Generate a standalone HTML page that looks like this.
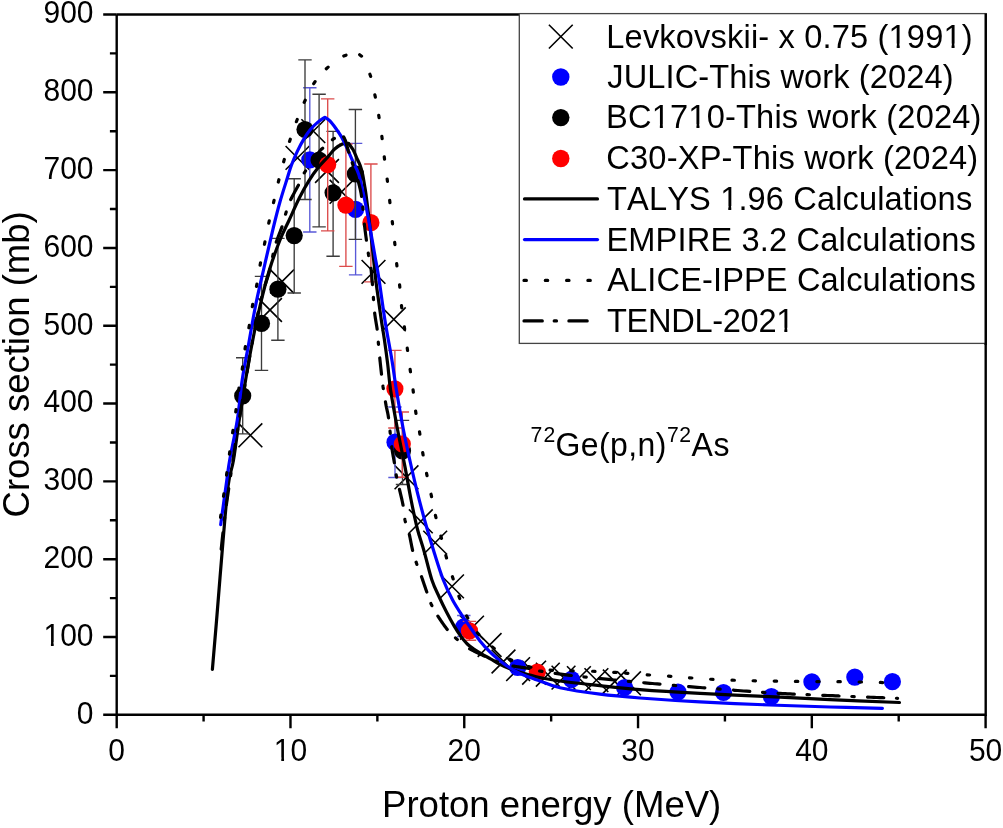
<!DOCTYPE html>
<html><head><meta charset="utf-8"><title>72Ge(p,n)72As cross section</title>
<style>html,body{margin:0;padding:0;background:#fff;}body{width:1003px;height:828px;position:relative;overflow:hidden;font-family:"Liberation Sans",sans-serif;}</style>
</head><body>
<svg width="1003" height="828" viewBox="0 0 1003 828" style="position:absolute;left:0;top:0;will-change:transform">
<rect width="100%" height="100%" fill="#fff"/>
<path d="M238.50,423.40L262.30,447.20M238.50,447.20L262.30,423.40" stroke="#000" stroke-width="1.6" fill="none"/>
<path d="M258.10,298.10L281.90,321.90M258.10,321.90L281.90,298.10" stroke="#000" stroke-width="1.6" fill="none"/>
<path d="M270.20,269.60L294.00,293.40M270.20,293.40L294.00,269.60" stroke="#000" stroke-width="1.6" fill="none"/>
<path d="M285.60,146.00L309.40,169.80M285.60,169.80L309.40,146.00" stroke="#000" stroke-width="1.6" fill="none"/>
<path d="M301.40,119.20L325.20,143.00M301.40,143.00L325.20,119.20" stroke="#000" stroke-width="1.6" fill="none"/>
<path d="M315.10,159.10L338.90,182.90M315.10,182.90L338.90,159.10" stroke="#000" stroke-width="1.6" fill="none"/>
<path d="M329.70,179.90L353.50,203.70M329.70,203.70L353.50,179.90" stroke="#000" stroke-width="1.6" fill="none"/>
<path d="M361.60,260.00L385.40,283.80M361.60,283.80L385.40,260.00" stroke="#000" stroke-width="1.6" fill="none"/>
<path d="M381.90,307.40L405.70,331.20M381.90,331.20L405.70,307.40" stroke="#000" stroke-width="1.6" fill="none"/>
<path d="M394.60,465.40L418.40,489.20M394.60,489.20L418.40,465.40" stroke="#000" stroke-width="1.6" fill="none"/>
<path d="M408.90,509.40L432.70,533.20M408.90,533.20L432.70,509.40" stroke="#000" stroke-width="1.6" fill="none"/>
<path d="M423.30,530.70L447.10,554.50M423.30,554.50L447.10,530.70" stroke="#000" stroke-width="1.6" fill="none"/>
<path d="M440.10,574.50L463.90,598.30M440.10,598.30L463.90,574.50" stroke="#000" stroke-width="1.6" fill="none"/>
<path d="M460.10,615.80L483.90,639.60M460.10,639.60L483.90,615.80" stroke="#000" stroke-width="1.6" fill="none"/>
<path d="M477.70,633.10L501.50,656.90M477.70,656.90L501.50,633.10" stroke="#000" stroke-width="1.6" fill="none"/>
<path d="M491.60,649.60L515.40,673.40M491.60,673.40L515.40,649.60" stroke="#000" stroke-width="1.6" fill="none"/>
<path d="M506.20,657.20L530.00,681.00M506.20,681.00L530.00,657.20" stroke="#000" stroke-width="1.6" fill="none"/>
<path d="M522.20,660.80L546.00,684.60M522.20,684.60L546.00,660.80" stroke="#000" stroke-width="1.6" fill="none"/>
<path d="M535.90,662.80L559.70,686.60M535.90,686.60L559.70,662.80" stroke="#000" stroke-width="1.6" fill="none"/>
<path d="M551.60,665.70L575.40,689.50M551.60,689.50L575.40,665.70" stroke="#000" stroke-width="1.6" fill="none"/>
<path d="M567.00,666.20L590.80,690.00M567.00,690.00L590.80,666.20" stroke="#000" stroke-width="1.6" fill="none"/>
<path d="M584.50,668.20L608.30,692.00M584.50,692.00L608.30,668.20" stroke="#000" stroke-width="1.6" fill="none"/>
<path d="M602.90,669.60L626.70,693.40M602.90,693.40L626.70,669.60" stroke="#000" stroke-width="1.6" fill="none"/>
<path d="M617.10,671.40L640.90,695.20M617.10,695.20L640.90,671.40" stroke="#000" stroke-width="1.6" fill="none"/>
<path d="M309.8,87.7V232M303.1,87.7H316.5M303.1,232H316.5" stroke="#5858d8" stroke-width="1.35" fill="none"/>
<path d="M355.6,143.3V274.8M348.90000000000003,143.3H362.3M348.90000000000003,274.8H362.3" stroke="#5858d8" stroke-width="1.35" fill="none"/>
<path d="M395.0,407V477.5M388.3,407H401.7M388.3,477.5H401.7" stroke="#5858d8" stroke-width="1.35" fill="none"/>
<path d="M463.8,615.5V636.5M457.1,615.5H470.5M457.1,636.5H470.5" stroke="#5858d8" stroke-width="1.35" fill="none"/>
<circle cx="309.8" cy="159.8" r="8.6" fill="#0000ff"/>
<circle cx="355.6" cy="209.3" r="8.6" fill="#0000ff"/>
<circle cx="395.0" cy="442.2" r="8.6" fill="#0000ff"/>
<circle cx="463.8" cy="626.8" r="8.6" fill="#0000ff"/>
<circle cx="517.7" cy="667.5" r="8.6" fill="#0000ff"/>
<circle cx="571.5" cy="679.4" r="8.6" fill="#0000ff"/>
<circle cx="624.6" cy="687.5" r="8.6" fill="#0000ff"/>
<circle cx="678" cy="692" r="8.6" fill="#0000ff"/>
<circle cx="723.5" cy="692.5" r="8.6" fill="#0000ff"/>
<circle cx="771.4" cy="696.7" r="8.6" fill="#0000ff"/>
<circle cx="811.9" cy="681.9" r="8.6" fill="#0000ff"/>
<circle cx="854.8" cy="677.1" r="8.6" fill="#0000ff"/>
<circle cx="892.4" cy="681.7" r="8.6" fill="#0000ff"/>
<path d="M242.7,357.7V433.9M236.0,357.7H249.39999999999998M236.0,433.9H249.39999999999998" stroke="#3c3c3c" stroke-width="1.35" fill="none"/>
<path d="M261.5,276.4V370.4M254.8,276.4H268.2M254.8,370.4H268.2" stroke="#3c3c3c" stroke-width="1.35" fill="none"/>
<path d="M277.9,238.3V340.2M271.2,238.3H284.59999999999997M271.2,340.2H284.59999999999997" stroke="#3c3c3c" stroke-width="1.35" fill="none"/>
<path d="M294.2,178.7V293M287.5,178.7H300.9M287.5,293H300.9" stroke="#3c3c3c" stroke-width="1.35" fill="none"/>
<path d="M305.0,59.8V199.5M298.3,59.8H311.7M298.3,199.5H311.7" stroke="#3c3c3c" stroke-width="1.35" fill="none"/>
<path d="M319.1,94.2V226.8M312.40000000000003,94.2H325.8M312.40000000000003,226.8H325.8" stroke="#3c3c3c" stroke-width="1.35" fill="none"/>
<path d="M333.1,131.4V256.2M326.40000000000003,131.4H339.8M326.40000000000003,256.2H339.8" stroke="#3c3c3c" stroke-width="1.35" fill="none"/>
<path d="M355.4,109.5V239.3M348.7,109.5H362.09999999999997M348.7,239.3H362.09999999999997" stroke="#3c3c3c" stroke-width="1.35" fill="none"/>
<path d="M402.5,420.4V484.5M395.8,420.4H409.2M395.8,484.5H409.2" stroke="#3c3c3c" stroke-width="1.35" fill="none"/>
<circle cx="242.7" cy="395.8" r="8.6" fill="#000"/>
<circle cx="261.5" cy="323.4" r="8.6" fill="#000"/>
<circle cx="277.9" cy="289.2" r="8.6" fill="#000"/>
<circle cx="294.2" cy="235.6" r="8.6" fill="#000"/>
<circle cx="305.0" cy="129.5" r="8.6" fill="#000"/>
<circle cx="319.1" cy="160" r="8.6" fill="#000"/>
<circle cx="333.1" cy="192.8" r="8.6" fill="#000"/>
<circle cx="355.4" cy="173.9" r="8.6" fill="#000"/>
<circle cx="402.5" cy="450.8" r="8.6" fill="#000"/>
<path d="M327.7,98.8V230.8M321.0,98.8H334.4M321.0,230.8H334.4" stroke="#dc4c4c" stroke-width="1.35" fill="none"/>
<path d="M345.9,144V266.3M339.2,144H352.59999999999997M339.2,266.3H352.59999999999997" stroke="#dc4c4c" stroke-width="1.35" fill="none"/>
<path d="M370.9,164V281.8M364.2,164H377.59999999999997M364.2,281.8H377.59999999999997" stroke="#dc4c4c" stroke-width="1.35" fill="none"/>
<path d="M394.9,350.3V428M388.2,350.3H401.59999999999997M388.2,428H401.59999999999997" stroke="#dc4c4c" stroke-width="1.35" fill="none"/>
<path d="M402.3,412V477.2M395.6,412H409.0M395.6,477.2H409.0" stroke="#dc4c4c" stroke-width="1.35" fill="none"/>
<path d="M469.5,621.3V640.2M462.8,621.3H476.2M462.8,640.2H476.2" stroke="#dc4c4c" stroke-width="1.35" fill="none"/>
<circle cx="327.7" cy="164.6" r="8.6" fill="#ff0000"/>
<circle cx="345.9" cy="205.1" r="8.6" fill="#ff0000"/>
<circle cx="370.9" cy="222.7" r="8.6" fill="#ff0000"/>
<circle cx="394.9" cy="388.8" r="8.6" fill="#ff0000"/>
<circle cx="402.3" cy="444.0" r="8.6" fill="#ff0000"/>
<circle cx="469.5" cy="630.9" r="8.6" fill="#ff0000"/>
<circle cx="537.3" cy="672.1" r="8.6" fill="#ff0000"/>
<path d="M212.40,669.40 C213.17,660.33 215.22,636.57 217.00,615.00 C218.78,593.43 221.23,561.63 223.10,540.00 C224.97,518.37 226.47,498.53 228.20,485.20 C229.93,471.87 231.67,470.87 233.50,460.00 C235.33,449.13 237.18,433.33 239.20,420.00 C241.22,406.67 243.53,392.33 245.60,380.00 C247.67,367.67 249.20,358.33 251.60,346.00 C254.00,333.67 257.03,318.67 260.00,306.00 C262.97,293.33 266.07,281.00 269.40,270.00 C272.73,259.00 276.70,248.33 280.00,240.00 C283.30,231.67 285.98,227.00 289.20,220.00 C292.42,213.00 296.00,204.57 299.30,198.00 C302.60,191.43 305.78,185.77 309.00,180.60 C312.22,175.43 315.38,171.03 318.60,167.00 C321.82,162.97 325.62,159.40 328.30,156.40 C330.98,153.40 332.35,151.05 334.70,149.00 C337.05,146.95 340.10,145.05 342.40,144.10 C344.70,143.15 347.48,143.43 348.50,143.30 L348.50,143.30 C349.27,144.38 351.73,147.38 353.10,149.80 C354.47,152.22 355.53,155.20 356.70,157.80 C357.87,160.40 359.10,162.62 360.10,165.40 C361.10,168.18 361.97,171.22 362.70,174.50 C363.43,177.78 363.97,181.88 364.50,185.10 C365.03,188.32 365.22,188.82 365.90,193.80 C366.58,198.78 367.67,207.30 368.60,215.00 C369.53,222.70 370.57,231.67 371.50,240.00 C372.43,248.33 373.42,257.75 374.20,265.00 C374.98,272.25 375.48,277.67 376.20,283.50 C376.92,289.33 377.65,293.92 378.50,300.00 C379.35,306.08 380.33,313.50 381.30,320.00 C382.27,326.50 383.23,331.65 384.30,339.00 C385.37,346.35 386.65,355.60 387.70,364.10 C388.75,372.60 388.98,379.23 390.60,390.00 C392.22,400.77 394.98,415.80 397.40,428.70 C399.82,441.60 402.82,455.52 405.10,467.40 C407.38,479.28 409.05,489.73 411.10,500.00 C413.15,510.27 415.23,520.47 417.40,529.00 C419.57,537.53 421.68,542.70 424.10,551.20 C426.52,559.70 429.38,572.37 431.90,580.00 C434.42,587.63 436.77,591.67 439.20,597.00 C441.63,602.33 444.02,607.18 446.50,612.00 C448.98,616.82 451.73,621.88 454.10,625.90 C456.47,629.92 458.50,633.08 460.70,636.10 C462.90,639.12 465.18,641.88 467.30,644.00 C469.42,646.12 471.08,647.20 473.40,648.80 C475.72,650.40 478.28,651.88 481.20,653.60 C484.12,655.32 487.78,657.32 490.90,659.10 C494.02,660.88 496.73,662.68 499.90,664.30 C503.07,665.92 506.58,667.47 509.90,668.80 C513.22,670.13 516.48,671.27 519.80,672.30 C523.12,673.33 526.47,674.12 529.80,675.00 C533.13,675.88 534.77,676.60 539.80,677.60 C544.83,678.60 549.97,679.67 560.00,681.00 C570.03,682.33 586.67,684.17 600.00,685.60 C613.33,687.03 623.33,688.30 640.00,689.60 C656.67,690.90 678.40,692.22 700.00,693.40 C721.60,694.58 747.93,695.67 769.60,696.70 C791.27,697.73 808.35,698.63 830.00,699.60 C851.65,700.57 887.92,702.02 899.50,702.50" fill="none" stroke="#000" stroke-width="3.2" stroke-linecap="round" stroke-linejoin="round"/>
<path d="M220.70,524.60 C221.70,517.32 225.20,491.67 226.70,480.90 C228.20,470.13 227.93,470.15 229.70,460.00 C231.47,449.85 235.22,433.33 237.30,420.00 C239.38,406.67 240.37,392.33 242.20,380.00 C244.03,367.67 246.08,358.33 248.30,346.00 C250.52,333.67 252.97,318.67 255.50,306.00 C258.03,293.33 260.55,282.97 263.50,270.00 C266.45,257.03 270.45,239.57 273.20,228.20 C275.95,216.83 277.62,210.25 280.00,201.80 C282.38,193.35 285.58,183.63 287.50,177.50 C289.42,171.37 289.87,169.35 291.50,165.00 C293.13,160.65 295.25,155.72 297.30,151.40 C299.35,147.08 301.62,142.73 303.80,139.10 C305.98,135.47 308.10,132.38 310.40,129.60 C312.70,126.82 315.18,124.45 317.60,122.40 C320.02,120.35 323.68,118.15 324.90,117.30 L324.90,117.30 C325.73,117.90 328.10,119.08 329.90,120.90 C331.70,122.72 333.77,125.53 335.70,128.20 C337.63,130.87 339.62,133.60 341.50,136.90 C343.38,140.20 345.18,144.08 347.00,148.00 C348.82,151.92 350.42,155.92 352.40,160.40 C354.38,164.88 356.85,168.30 358.90,174.90 C360.95,181.50 363.10,192.60 364.70,200.00 C366.30,207.40 367.30,212.87 368.50,219.30 C369.70,225.73 370.77,232.15 371.90,238.60 C373.03,245.05 374.17,251.55 375.30,258.00 C376.43,264.45 377.07,266.77 378.70,277.30 C380.33,287.83 382.90,307.43 385.10,321.20 C387.30,334.97 390.02,348.43 391.90,359.90 C393.78,371.37 394.52,378.53 396.40,390.00 C398.28,401.47 400.97,417.03 403.20,428.70 C405.43,440.37 407.43,449.35 409.80,460.00 C412.17,470.65 414.70,481.77 417.40,492.60 C420.10,503.43 423.15,514.85 426.00,525.00 C428.85,535.15 431.62,544.33 434.50,553.50 C437.38,562.67 440.28,572.25 443.30,580.00 C446.32,587.75 449.57,594.25 452.60,600.00 C455.63,605.75 458.60,610.00 461.50,614.50 C464.40,619.00 466.92,622.60 470.00,627.00 C473.08,631.40 476.68,636.75 480.00,640.90 C483.32,645.05 486.58,648.58 489.90,651.90 C493.22,655.22 496.57,658.12 499.90,660.80 C503.23,663.48 506.55,665.88 509.90,668.00 C513.25,670.12 516.65,671.90 520.00,673.50 C523.35,675.10 526.67,676.35 530.00,677.60 C533.33,678.85 535.00,679.30 540.00,681.00 C545.00,682.70 550.00,685.60 560.00,687.80 C570.00,690.00 586.67,692.50 600.00,694.20 C613.33,695.90 623.33,696.72 640.00,698.00 C656.67,699.28 678.40,700.73 700.00,701.90 C721.60,703.07 747.93,704.15 769.60,705.00 C791.27,705.85 811.20,706.45 830.00,707.00 C848.80,707.55 873.67,708.08 882.40,708.30" fill="none" stroke="#0000ff" stroke-width="3.2" stroke-linecap="round" stroke-linejoin="round"/>
<path d="M220.53,517.39L220.87,515.01M223.53,496.29L223.87,493.91M226.53,475.09L226.87,472.71M229.43,454.19L229.77,451.81M232.62,432.79L232.98,430.41M235.73,411.89L236.07,409.51M238.62,390.39L238.98,388.01M242.22,369.19L242.58,366.81M245.01,348.88L245.39,346.52M248.90,327.78L249.30,325.42M252.28,306.68L252.72,304.32M256.48,286.38L256.92,284.02M260.08,265.18L260.52,262.82M264.46,244.28L264.94,241.92M268.74,223.17L269.26,220.83M273.53,202.67L274.07,200.33M278.31,182.06L278.89,179.74M283.68,161.76L284.32,159.44M289.53,141.44L290.27,139.16M296.37,121.72L297.23,119.48M304.19,102.39L305.21,100.21M313.73,83.70L315.07,81.70M326.30,68.70L328.10,67.10M343.78,56.02L346.02,55.18M359.65,54.66L361.55,56.14M369.90,74.17L370.70,76.43M374.85,94.83L375.35,97.17M378.70,115.32L379.10,117.68M381.84,136.31L382.16,138.69M384.25,156.81L384.55,159.19M387.15,179.01L387.45,181.39M389.66,200.31L389.94,202.69M392.26,221.51L392.54,223.89M394.68,242.31L394.92,244.69M396.66,263.61L396.94,265.99M399.56,284.81L399.84,287.19M401.46,305.51L401.74,307.89M404.34,326.81L404.66,329.19M407.24,348.11L407.56,350.49M410.13,369.41L410.47,371.79M413.04,389.81L413.36,392.19M415.62,411.01L415.98,413.39M419.50,431.82L419.90,434.18M422.70,452.62L423.10,454.98M426.56,473.32L427.04,475.68M431.05,494.23L431.55,496.57M435.42,515.33L435.98,517.67M440.90,536.04L441.50,538.36M445.87,555.65L446.53,557.95M452.43,576.66L453.17,578.94M458.89,596.27L459.71,598.53M466.65,615.94L467.75,618.06M477.32,632.69L478.88,634.51M492.36,646.95L494.24,648.45M509.64,659.14L511.76,660.26M528.64,666.60L530.96,667.20M550.11,670.19L552.49,670.41M570.80,670.77L573.20,670.83M592.60,671.26L595.00,671.34M613.70,672.33L616.10,672.47M625.50,673.11L627.90,673.29M647.20,674.81L649.60,674.99M668.50,676.22L670.90,676.38M689.50,677.81L691.90,677.99M710.60,679.24L713.00,679.36M732.00,680.16L734.40,680.24M753.10,680.77L755.50,680.83M774.20,681.08L776.60,681.12M795.40,681.39L797.80,681.41M816.80,681.59L819.20,681.61M837.90,681.69L840.30,681.71M859.10,681.98L861.50,682.02M880.30,682.47L882.70,682.53" fill="none" stroke="#000" stroke-width="3.2" stroke-linecap="round"/>
<path d="M221.20,549.15L221.30,548.22L221.42,547.07L221.56,545.83L221.70,544.51L221.84,543.10L222.00,541.63L222.16,540.09L222.33,538.50L222.51,536.86L222.69,535.19L222.87,533.48L222.93,532.94M224.39,520.02L224.42,519.70L224.62,518.08L224.67,517.64M226.37,504.75L226.56,503.44L226.76,502.02L226.96,500.60L227.17,499.18L227.38,497.75L227.58,496.32L227.80,494.89L228.01,493.45L228.22,492.00L228.44,490.54L228.66,489.08L228.72,488.62M230.62,475.76L230.70,475.24L230.94,473.62L230.97,473.38M232.87,460.52L232.91,460.31L233.16,458.62L233.41,456.92L233.67,455.22L233.93,453.52L234.18,451.82L234.44,450.12L234.70,448.42L234.96,446.72L235.22,445.03L235.32,444.41M237.33,431.57L237.57,430.12L237.71,429.20M239.80,416.37L239.97,415.37L240.24,413.70L240.52,412.03L240.79,410.35L241.07,408.66L241.35,406.96L241.64,405.24L241.92,403.51L242.21,401.76L242.45,400.28M244.56,387.45L244.63,387.00L244.94,385.08M247.06,372.26L247.18,371.51L247.50,369.59L247.82,367.69L248.14,365.80L248.45,363.94L248.77,362.09L249.08,360.28L249.39,358.49L249.70,356.73L249.79,356.19M252.09,343.39L252.11,343.29L252.41,341.67L252.52,341.03M254.95,328.26L255.05,327.75L255.33,326.29L255.62,324.85L255.90,323.44L256.18,322.04L256.45,320.67L256.73,319.32L257.00,318.00L257.27,316.70L257.54,315.43L257.80,314.18L258.06,312.95L258.20,312.29M261.07,299.61L261.28,298.76L261.52,297.77L261.65,297.28M265.15,284.77L265.34,284.19L265.61,283.39L265.87,282.60L266.13,281.81L266.39,281.04L266.65,280.27L266.90,279.50L267.16,278.74L267.40,277.99L267.65,277.23L267.89,276.48L268.12,275.73L268.35,274.98L268.57,274.22L268.79,273.46L269.00,272.70L269.20,271.93L269.40,271.17L269.60,270.39L269.78,269.62L269.89,269.18M272.64,256.47L272.76,255.91L272.90,255.30L273.03,254.71L273.16,254.15L273.16,254.13M276.23,242.13L276.38,241.68L276.64,240.95L276.92,240.20L277.20,239.43L277.50,238.64L277.80,237.83L278.11,237.01L278.43,236.19L278.75,235.35L279.07,234.52L279.39,233.68L279.71,232.85L280.03,232.02L280.34,231.20L280.65,230.40L280.95,229.60L281.24,228.83L281.52,228.07L281.79,227.34L281.96,226.87M285.56,214.19L285.65,213.90L285.80,213.40L285.96,212.89L286.11,212.39L286.26,211.90L286.26,211.89M290.72,199.57L291.04,198.92L291.39,198.21L291.76,197.49L292.15,196.75L292.54,195.99L292.95,195.23L293.36,194.46L293.78,193.68L294.21,192.90L294.64,192.11L295.07,191.33L295.50,190.55L295.92,189.78L296.34,189.01L296.75,188.26L297.16,187.52L297.55,186.80L297.94,186.09L298.30,185.41L298.41,185.20M304.26,172.94L304.60,172.40L305.02,171.73L305.49,171.01L305.55,170.92M312.49,160.88L312.91,160.30L313.57,159.38L314.22,158.49L314.85,157.61L315.47,156.77L316.07,155.96L316.64,155.19L317.18,154.46L317.69,153.79L318.17,153.16L318.60,152.60L319.00,152.09L319.36,151.63L319.69,151.22L320.00,150.85L320.28,150.52L320.54,150.22L320.79,149.95L321.01,149.71L321.22,149.50L321.42,149.30L321.61,149.13L321.79,148.96L321.97,148.81L322.15,148.66L322.33,148.52L322.51,148.38L322.70,148.23L322.70,148.23M332.44,139.72L332.55,139.63L332.94,139.34L333.32,139.06L333.70,138.80L334.08,138.55L334.40,138.34M343.65,136.91L343.80,137.16L343.94,137.43L344.09,137.71L344.24,137.99L344.40,138.29L344.55,138.59L344.69,138.91L344.84,139.23L344.99,139.56L345.13,139.90L345.27,140.25L345.40,140.60L345.53,140.96L345.66,141.34L345.78,141.73L345.91,142.13L346.03,142.54L346.16,142.96L346.28,143.40L346.40,143.84L346.53,144.29L346.65,144.75L346.77,145.21L346.90,145.69L347.03,146.17L347.16,146.66L347.29,147.15L347.42,147.65L347.55,148.16L347.69,148.67L347.83,149.18L347.98,149.70L348.13,150.22L348.28,150.75L348.44,151.27L348.60,151.80L348.77,152.33M352.20,162.70L352.31,163.02L352.51,163.62L352.71,164.22L352.91,164.82L352.96,164.98M358.00,180.55L358.15,181.10L358.33,181.75L358.50,182.40L358.68,183.05L358.85,183.71L359.02,184.37L359.20,185.03L359.37,185.71L359.54,186.38L359.71,187.07L359.88,187.77L360.04,188.48L360.20,189.19L360.37,189.92L360.53,190.67L360.68,191.42L360.84,192.20L360.99,192.98L361.14,193.79L361.28,194.61L361.43,195.45L361.56,196.32L361.58,196.44M362.80,207.08L362.85,207.59L362.95,208.72L363.01,209.47M364.35,224.02L364.41,224.52L364.51,225.41L364.61,226.29L364.72,227.15L364.82,228.00L364.92,228.85L365.03,229.67L365.13,230.49L365.23,231.30L365.34,232.09L365.44,232.88L365.54,233.65L365.64,234.41L365.74,235.16L365.84,235.90L365.94,236.64L366.04,237.36L366.13,238.07L366.23,238.77L366.32,239.47L366.42,240.15L366.42,240.19M368.27,253.20L368.34,253.62L368.42,254.11L368.50,254.60L368.58,255.08L368.67,255.53L368.68,255.57M370.99,268.46L371.02,268.77L371.11,269.57L371.19,270.40L371.28,271.26L371.36,272.13L371.45,273.01L371.53,273.91L371.61,274.83L371.70,275.76L371.78,276.70L371.86,277.65L371.94,278.61L372.03,279.58L372.11,280.55L372.19,281.52L372.27,282.50L372.36,283.48L372.44,284.45L372.46,284.69M373.37,297.27L373.42,298.02L373.49,299.12L373.53,299.67M374.66,313.03L374.71,313.44L374.83,314.35L374.95,315.25L375.07,316.14L375.20,317.02L375.33,317.89L375.46,318.75L375.60,319.60L375.73,320.44L375.87,321.27L376.01,322.09L376.14,322.90L376.28,323.70L376.41,324.49L376.54,325.26L376.66,326.02L376.79,326.77L376.90,327.51L377.02,328.23L377.12,328.94L377.15,329.14M378.28,342.07L378.28,342.17L378.34,342.81L378.40,343.50L378.47,344.22L378.49,344.46M379.77,357.98L379.81,358.35L379.91,359.31L380.00,360.27L380.10,361.23L380.20,362.18L380.30,363.13L380.40,364.07L380.50,365.00L380.60,365.93L380.70,366.88L380.81,367.84L380.91,368.82L381.02,369.80L381.13,370.79L381.24,371.78L381.35,372.78L381.46,373.78L381.51,374.19M382.96,386.20L382.97,386.29L383.09,387.16L383.20,388.00L383.28,388.58M385.44,401.84L385.54,402.41L385.65,403.06L385.77,403.71L385.89,404.35L386.00,405.00L386.11,405.63L386.23,406.23L386.34,406.80L386.45,407.36L386.57,407.89L386.68,408.41L386.79,408.91L386.90,409.41L387.01,409.90L387.12,410.39L387.23,410.88L387.34,411.38L387.45,411.88L387.57,412.40L387.68,412.93L387.79,413.48L387.90,414.06L388.01,414.66L388.13,415.29L388.24,415.95L388.35,416.65L388.47,417.39L388.54,417.84M390.02,431.04L390.14,432.28L390.25,433.43M391.69,446.71L391.72,446.92L391.84,447.81L391.97,448.68L392.09,449.52L392.22,450.35L392.35,451.16L392.48,451.95L392.60,452.72L392.73,453.48L392.86,454.22L392.99,454.94L393.11,455.66L393.24,456.36L393.36,457.04L393.49,457.72L393.61,458.39L393.73,459.05L393.85,459.70L393.96,460.34L394.07,460.98L394.19,461.62L394.29,462.25L394.38,462.79M396.18,474.82L396.21,474.97L396.30,475.48L396.40,476.00L396.50,476.52L396.60,477.03L396.63,477.18M399.47,489.35L399.60,489.89L399.75,490.56L399.92,491.25L400.08,491.96L400.25,492.68L400.42,493.41L400.60,494.15L400.78,494.90L400.96,495.65L401.13,496.41L401.31,497.18L401.49,497.94L401.67,498.71L401.84,499.47L402.01,500.23L402.18,500.99L402.34,501.73L402.50,502.48L402.65,503.21L402.80,503.93L402.94,504.63L403.06,505.25M404.87,519.42L404.88,519.47L404.98,520.03L405.10,520.60L405.22,521.16L405.35,521.70L405.37,521.77M409.32,534.42L409.33,534.46L409.49,535.18L409.65,535.93L409.82,536.70L409.98,537.49L410.15,538.29L410.31,539.11L410.48,539.94L410.64,540.77L410.80,541.61L410.97,542.46L411.13,543.30L411.30,544.14L411.46,544.97L411.62,545.79L411.78,546.60L411.95,547.40L412.11,548.18L412.27,548.93L412.43,549.67L412.59,550.38L412.59,550.38M416.11,562.17L416.17,562.36L416.33,562.82L416.50,563.30L416.67,563.78L416.83,564.24L416.90,564.43M421.51,576.64L421.63,576.97L421.89,577.72L422.16,578.50L422.44,579.30L422.72,580.12L423.00,580.96L423.29,581.81L423.59,582.67L423.88,583.53L424.17,584.40L424.47,585.27L424.76,586.13L425.05,586.98L425.34,587.83L425.62,588.66L425.90,589.47L426.17,590.27L426.44,591.03L426.69,591.78L426.79,592.06M430.91,603.51L431.00,603.72L431.20,604.15L431.40,604.60L431.61,605.05L431.82,605.49L431.91,605.68M437.89,616.10L438.21,616.60L438.59,617.18L438.98,617.78L439.38,618.39L439.80,619.01L440.22,619.64L440.65,620.28L441.09,620.93L441.54,621.58L441.98,622.23L442.44,622.89L442.89,623.54L443.35,624.19L443.80,624.83L444.26,625.46L444.71,626.09L445.16,626.70L445.60,627.30L446.04,627.88L446.47,628.44L446.89,628.98L447.25,629.44M455.50,637.91L455.57,637.97L455.98,638.33L456.40,638.70L456.83,639.08L457.26,639.46L457.30,639.49M469.66,648.81L470.26,649.14L470.96,649.53L471.68,649.92L472.42,650.31L473.17,650.70L473.94,651.09L474.72,651.48L475.50,651.87L476.29,652.25L477.07,652.63L477.86,653.01L478.65,653.38L479.42,653.75L480.19,654.11L480.95,654.47L481.69,654.81L482.42,655.15L483.12,655.48L483.81,655.80L484.27,656.02M495.27,661.09L495.40,661.14L495.89,661.32L496.40,661.50L496.93,661.68L497.46,661.87L497.53,661.90M512.99,666.00L513.23,666.05L514.07,666.19L514.93,666.34L515.82,666.48L516.72,666.62L517.63,666.76L518.56,666.90L519.49,667.04L520.42,667.17L521.36,667.31L522.29,667.44L523.21,667.57L524.12,667.70L525.01,667.83L525.89,667.95L526.74,668.08L527.57,668.20L528.37,668.32L529.10,668.44M539.62,671.01L539.84,671.05L540.80,671.20L541.85,671.36L541.99,671.39M555.15,673.34L555.59,673.40L557.25,673.63L558.95,673.87L560.69,674.10L562.48,674.34L564.30,674.58L566.15,674.82L568.04,675.06L569.97,675.31L571.31,675.47M583.88,676.93L584.27,676.97L586.27,677.19M599.33,678.54L600.98,678.70L603.53,678.96L606.10,679.21L608.70,679.46L611.32,679.72L613.95,679.97L615.55,680.12M628.34,681.32L629.76,681.46L630.73,681.55M643.77,682.74L644.97,682.85L647.43,683.07L649.89,683.29L652.34,683.51L654.77,683.73L657.21,683.94L659.64,684.15L660.00,684.18M673.31,685.32L674.32,685.40L675.70,685.52M688.62,686.58L689.44,686.65L692.04,686.86L694.66,687.07L697.32,687.28L700.00,687.50L702.72,687.72L704.87,687.89M717.80,688.94L719.87,689.11L720.19,689.13M733.50,690.19L734.78,690.29L737.77,690.53L740.77,690.76L743.75,690.99L746.73,691.21L749.68,691.43L749.75,691.44M762.56,692.34L764.09,692.45L764.96,692.50M778.03,693.30L780.12,693.41L782.66,693.55L785.18,693.68L787.67,693.80L790.15,693.92L792.61,694.04L794.31,694.11M807.00,694.66L807.23,694.67L809.39,694.76M822.75,695.30L824.74,695.38L827.35,695.49L830.00,695.60L832.74,695.72L835.60,695.84L838.57,695.96L839.04,695.98M851.80,696.50L854.20,696.60M867.51,697.12L867.58,697.12L870.75,697.25L873.86,697.37L876.88,697.49L879.81,697.60L882.61,697.71L883.80,697.76M896.40,698.25L897.60,698.30" fill="none" stroke="#000" stroke-width="3.2" stroke-linecap="round" stroke-linejoin="round"/>
<path d="M116.7,14.5V714.8H985.7V14.5H116.7" fill="none" stroke="#000" stroke-width="2.4" stroke-linejoin="miter"/>
<path d="M116.70,714.8v13.5M203.59,714.8v6.8M290.48,714.8v13.5M377.37,714.8v6.8M464.26,714.8v13.5M551.15,714.8v6.8M638.04,714.8v13.5M724.93,714.8v6.8M811.82,714.8v13.5M898.71,714.8v6.8M985.60,714.8v13.5M116.7,714.80h-13.5M116.7,675.89h-6.8M116.7,636.99h-13.5M116.7,598.08h-6.8M116.7,559.18h-13.5M116.7,520.27h-6.8M116.7,481.37h-13.5M116.7,442.46h-6.8M116.7,403.56h-13.5M116.7,364.65h-6.8M116.7,325.75h-13.5M116.7,286.84h-6.8M116.7,247.94h-13.5M116.7,209.03h-6.8M116.7,170.13h-13.5M116.7,131.22h-6.8M116.7,92.32h-13.5M116.7,53.41h-6.8M116.7,14.51h-13.5" stroke="#000" stroke-width="2.4" fill="none"/>
<g font-family="Liberation Sans, sans-serif" style="font-kerning:none" fill="#000">
<text transform="translate(116.70,761.3) scale(1,1.03)" font-size="30" text-anchor="middle">0</text>
<text transform="translate(290.48,761.3) scale(1,1.03)" font-size="30" text-anchor="middle">10</text>
<text transform="translate(464.26,761.3) scale(1,1.03)" font-size="30" text-anchor="middle">20</text>
<text transform="translate(638.04,761.3) scale(1,1.03)" font-size="30" text-anchor="middle">30</text>
<text transform="translate(811.82,761.3) scale(1,1.03)" font-size="30" text-anchor="middle">40</text>
<text transform="translate(985.60,761.3) scale(1,1.03)" font-size="30" text-anchor="middle">50</text>
<text transform="translate(93.5,723.70) scale(1,1.03)" font-size="30" text-anchor="end">0</text>
<text transform="translate(93.5,645.89) scale(1,1.03)" font-size="30" text-anchor="end">100</text>
<text transform="translate(93.5,568.08) scale(1,1.03)" font-size="30" text-anchor="end">200</text>
<text transform="translate(93.5,490.27) scale(1,1.03)" font-size="30" text-anchor="end">300</text>
<text transform="translate(93.5,412.46) scale(1,1.03)" font-size="30" text-anchor="end">400</text>
<text transform="translate(93.5,334.65) scale(1,1.03)" font-size="30" text-anchor="end">500</text>
<text transform="translate(93.5,256.84) scale(1,1.03)" font-size="30" text-anchor="end">600</text>
<text transform="translate(93.5,179.03) scale(1,1.03)" font-size="30" text-anchor="end">700</text>
<text transform="translate(93.5,101.22) scale(1,1.03)" font-size="30" text-anchor="end">800</text>
<text transform="translate(93.5,23.41) scale(1,1.03)" font-size="30" text-anchor="end">900</text>
<text x="382.00" y="816.90" font-size="36.6" textLength="339.31" lengthAdjust="spacing">Proton energy (MeV)</text>
<text transform="translate(29,517.40) rotate(-90)" x="0" y="0" font-size="36.6" textLength="306.09" lengthAdjust="spacing">Cross section (mb)</text>
<text transform="translate(530.40,442.40) scale(1,1.03)" font-size="21.2" textLength="24.78" lengthAdjust="spacing">72</text>
<text transform="translate(555.50,455.90) scale(1,1.05)" font-size="32" textLength="110.88" lengthAdjust="spacing">Ge(p,n)</text>
<text transform="translate(667.00,442.40) scale(1,1.03)" font-size="21.2" textLength="23.98" lengthAdjust="spacing">72</text>
<text transform="translate(691.50,455.90) scale(1,1.05)" font-size="32" textLength="37.94" lengthAdjust="spacing">As</text>
</g>
<rect x="519.3" y="13.6" width="466.4" height="329.8" fill="#fff" stroke="#444" stroke-width="1.3"/>
<path d="M985.7,13.6V345" stroke="#000" stroke-width="2.4"/>
<g font-family="Liberation Sans, sans-serif" style="font-kerning:none" fill="#000">
<text transform="translate(606.30,47.60) scale(1,1.026)" font-size="32.6" textLength="366.30" lengthAdjust="spacing">Levkovskii- x 0.75 (1991)</text>
<text transform="translate(607.30,88.30) scale(1,1.026)" font-size="32.6" textLength="346.20" lengthAdjust="spacing">JULIC-This work (2024)</text>
<text transform="translate(606.10,128.40) scale(1,1.026)" font-size="32.6" textLength="375.34" lengthAdjust="spacing">BC1710-This work (2024)</text>
<text transform="translate(606.30,168.70) scale(1,1.026)" font-size="32.6" textLength="371.88" lengthAdjust="spacing">C30-XP-This work (2024)</text>
<text transform="translate(607.10,210.10) scale(1,1.026)" font-size="32.6" textLength="365.09" lengthAdjust="spacing">TALYS 1.96 Calculations</text>
<text transform="translate(606.40,250.50) scale(1,1.026)" font-size="32.6" textLength="369.41" lengthAdjust="spacing">EMPIRE 3.2 Calculations</text>
<text transform="translate(607.20,290.70) scale(1,1.026)" font-size="32.6" textLength="368.60" lengthAdjust="spacing">ALICE-IPPE Calculations</text>
<text transform="translate(607.00,331.90) scale(1,1.026)" font-size="32.6" textLength="187.35" lengthAdjust="spacing">TENDL-2021</text>
</g>
<path d="M548.90,24.70L572.70,48.50M548.90,48.50L572.70,24.70" stroke="#000" stroke-width="1.6" fill="none"/>
<circle cx="560.8" cy="77.0" r="8.7" fill="#0000ff"/>
<circle cx="560.8" cy="117.6" r="8.7" fill="#000"/>
<circle cx="560.8" cy="158.5" r="8.7" fill="#ff0000"/>
<path d="M524.5,198.9H597.5" stroke="#000" stroke-width="3.2" stroke-linecap="round"/>
<path d="M524.5,239.6H597.5" stroke="#0000ff" stroke-width="3.2" stroke-linecap="round"/>
<path d="M524,280.4H591" stroke="#000" stroke-width="3.2" stroke-linecap="round" stroke-dasharray="2.4 18.9"/>
<path d="M524,320.9H587.5" stroke="#000" stroke-width="3.2" stroke-linecap="round" stroke-dasharray="18.3 11.9 2.3 12.4"/>
<path d="M275.00,757.44H281.27V762.23H275.00ZM284.04,757.44H289.85V762.23H284.04ZM44.66,642.03H50.92V646.82H44.66ZM53.70,642.03H59.51V646.82H53.70ZM889.87,43.42H896.68V48.60H889.87ZM899.69,43.42H906.01V48.60H899.69ZM944.75,43.42H951.56V48.60H944.75ZM954.57,43.42H960.89V48.60H954.57ZM653.03,124.22H659.84V129.40H653.03ZM662.85,124.22H669.17V129.40H662.85ZM689.65,124.22H696.46V129.40H689.65ZM699.47,124.22H705.79V129.40H699.47ZM721.45,205.92H728.26V211.10H721.45ZM731.27,205.92H737.59V211.10H731.27ZM777.52,327.72H784.32V332.90H777.52ZM787.34,327.72H793.65V332.90H787.34Z" fill="#fff"/>
</svg>
</body></html>
